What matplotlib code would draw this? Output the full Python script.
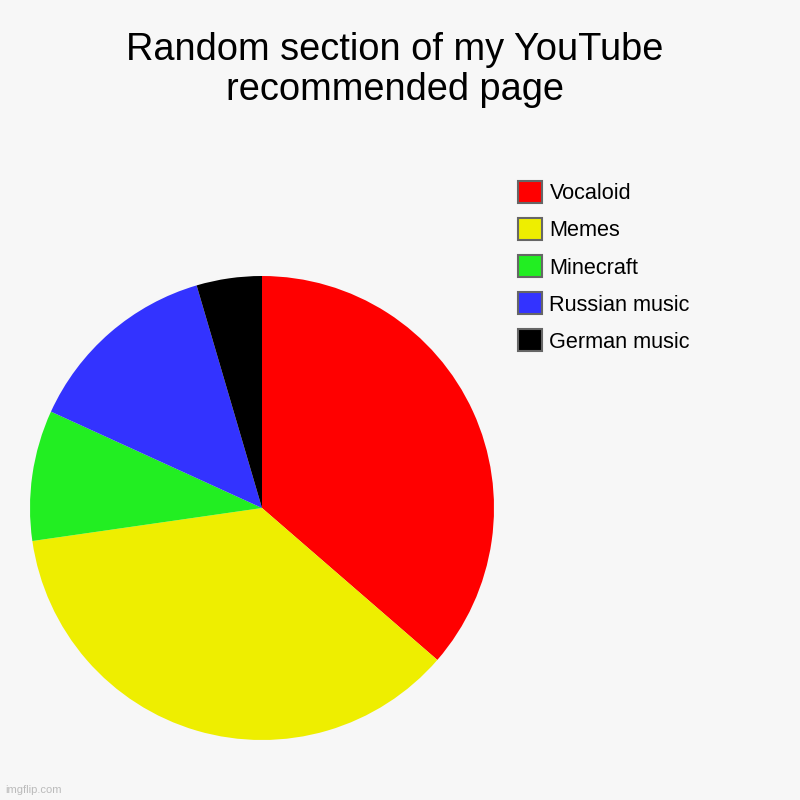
import matplotlib.pyplot as plt
from matplotlib.patches import Patch

plt.rcParams["font.family"] = ["Liberation Sans", "DejaVu Sans"]

categories = ["Vocaloid", "Memes", "Minecraft", "Russian music", "German music"]
counts = [8, 8, 2, 3, 1]
colors = ["#ff0000", "#eeee00", "#22ee22", "#3333ff", "#000000"]

bg = "#f7f7f7"
fig = plt.figure(figsize=(8, 8), dpi=100, facecolor=bg)

fig.text(395 / 800, 0.96, "Random section of my YouTube\nrecommended page",
         ha="center", va="top", fontsize=27.4, linespacing=1.13, color="#000000")

ax = fig.add_axes([30 / 800, 60 / 800, 464 / 800, 464 / 800])
ax.set_facecolor(bg)
ax.pie(counts, colors=colors, startangle=90, counterclock=False,
       wedgeprops=dict(linewidth=0))
ax.set_xlim(-1, 1)
ax.set_ylim(-1, 1)
ax.set_aspect("equal")

handles = [Patch(facecolor=c, edgecolor="#666666", linewidth=1.5) for c in colors]
fig.legend(handles, categories, loc="upper left",
           bbox_to_anchor=(518 / 800, 1 - 181 / 800), frameon=False,
           fontsize=15.6, borderpad=0, handlelength=1.12, handleheight=1.2,
           labelspacing=0.63, handletextpad=0.33, borderaxespad=0)

fig.text(5 / 800, 5 / 800, "imgflip.com", fontsize=8, color="#bbbbbb",
         ha="left", va="bottom")

fig.savefig("out.png", dpi=100, facecolor=bg)
